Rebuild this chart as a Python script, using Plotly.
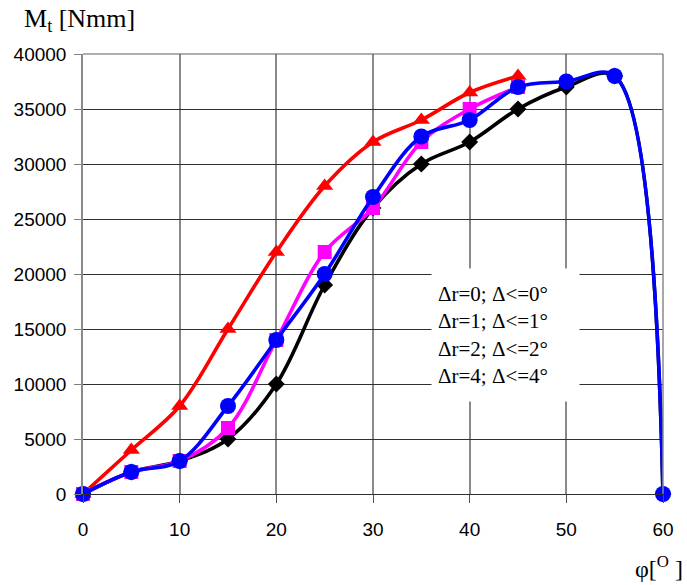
import plotly.graph_objects as go

# Twisting moment M_t versus angle phi for four clearance settings
phi_full = [0, 5, 10, 15, 20, 25, 30, 35, 40, 45, 50, 55, 60]
phi_short = [0, 5, 10, 15, 20, 25, 30, 35, 40, 45]

mt_r0 = [0, 2000, 3000, 5000, 10000, 19000, 26000, 30000, 32000, 35000, 37000, 38000, 0]
mt_r1 = [0, 4000, 8000, 15000, 22000, 28000, 32000, 34000, 36500, 38000]
mt_r2 = [0, 2000, 3000, 6000, 14000, 22000, 26000, 32000, 35000, 37000]
mt_r4 = [0, 2000, 3000, 8000, 14000, 20000, 27000, 32500, 34000, 37000, 37500, 38000, 0]

series_names = ["Δr=0; Δ<=0°", "Δr=1; Δ<=1°", "Δr=2; Δ<=2°", "Δr=4; Δ<=4°"]

x_ticks = [0, 10, 20, 30, 40, 50, 60]
y_ticks = [0, 5000, 10000, 15000, 20000, 25000, 30000, 35000, 40000]

fig = go.Figure()

traces = [
    (phi_full, mt_r0, "black", "diamond", 13),
    (phi_short, mt_r1, "#ff0000", "triangle-up", 15),
    (phi_short, mt_r2, "#ff00ff", "square", 14),
    (phi_full, mt_r4, "#0000ff", "circle", 16),
]
for (xs, ys, col, sym, size), name in zip(traces, series_names):
    fig.add_trace(go.Scatter(
        x=xs, y=ys, name=name, mode="lines+markers",
        line=dict(color=col, width=3.6, shape="spline", smoothing=1),
        marker=dict(color=col, symbol=sym, size=size),
        cliponaxis=False, showlegend=False,
    ))

tick_font = dict(family="Liberation Sans", size=19, color="black")

fig.update_xaxes(
    range=[0, 60], tickvals=x_ticks, ticktext=[str(v) for v in x_ticks],
    showgrid=True, gridcolor="#8a8a8a", gridwidth=1.5,
    showline=True, linecolor="#303030", linewidth=1.2, mirror=False,
    ticks="outside", ticklen=8, tickcolor="#505050",
    tickfont=tick_font, ticklabelstandoff=10, zeroline=False,
)
fig.update_yaxes(
    range=[0, 40000], tickvals=y_ticks, ticktext=[str(v) for v in y_ticks],
    showgrid=True, gridcolor="#303030", gridwidth=1,
    showline=True, linecolor="#8a8a8a", linewidth=1.5,
    ticks="outside", ticklen=7, tickcolor="#808080",
    tickfont=tick_font, ticklabelstandoff=4, zeroline=False,
)

# frame edges at 60 deg and 40000 Nmm
fig.add_shape(type="line", xref="paper", yref="paper", x0=1, x1=1, y0=0, y1=1,
              line=dict(color="#8a8a8a", width=1.5))
fig.add_shape(type="line", xref="paper", yref="paper", x0=0, x1=1, y0=1, y1=1,
              line=dict(color="#606060", width=1.2))

serif = "Liberation Serif"

# series key as a white text box
fig.add_annotation(
    xref="paper", yref="paper", x=0.6, y=0.5136, xanchor="left", yanchor="top",
    text="<br>".join(series_names), showarrow=False, align="left",
    font=dict(family=serif, size=21, color="black"),
    bgcolor="white", borderpad=6, width=135, height=120, valign="middle",
)

fig.add_annotation(
    xref="paper", yref="paper", x=-0.105, y=1.077, xanchor="left", yanchor="middle",
    text="M<sub>t</sub> [Nmm]", showarrow=False,
    font=dict(family=serif, size=26, color="black"),
)
fig.add_annotation(
    xref="paper", yref="paper", x=0.993, y=-0.165, xanchor="center", yanchor="middle",
    text="φ[<sup>O</sup> ]", showarrow=False,
    font=dict(family=serif, size=24, color="black"),
)

fig.update_layout(
    width=687, height=585,
    margin=dict(l=83, r=24, t=54, b=91),
    plot_bgcolor="white", paper_bgcolor="white",
)

fig.write_html("out.html")
